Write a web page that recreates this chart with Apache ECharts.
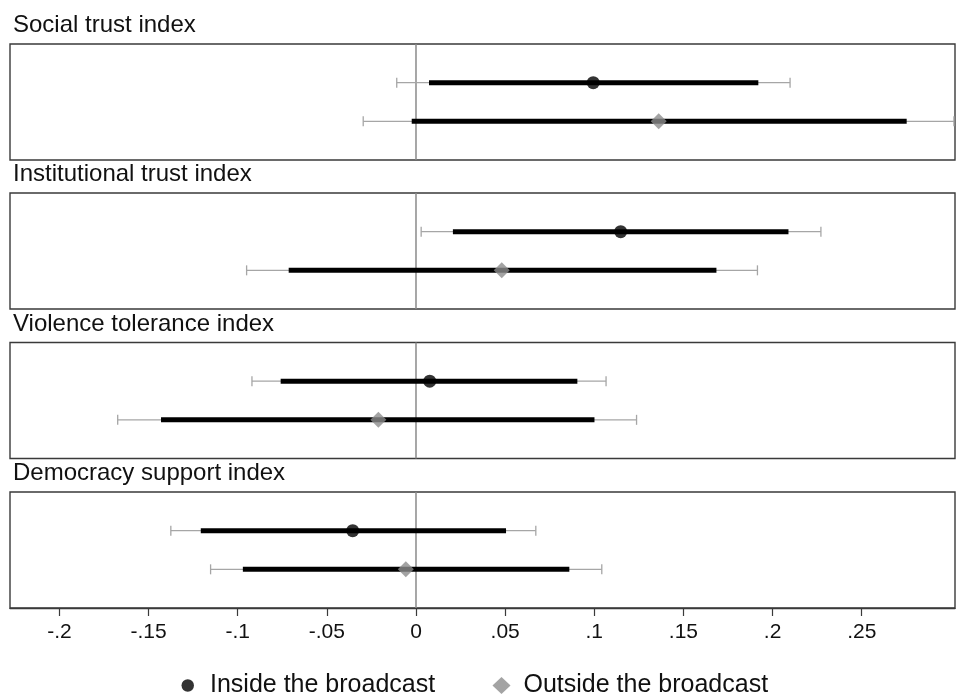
<!DOCTYPE html>
<html>
<head>
<meta charset="utf-8">
<script src="https://cdn.jsdelivr.net/npm/echarts@6/dist/echarts.min.js"></script>
<style>
html,body{margin:0;padding:0;background:#fff;}
#chart{width:957px;height:695px;}
</style>
</head>
<body>
<div id="chart"></div>
<script>
const panels = ['Social trust index', 'Institutional trust index', 'Violence tolerance index', 'Democracy support index'];
const seriesNames = ['Inside the broadcast', 'Outside the broadcast'];

const insideEst  = [0.0994, 0.1148, 0.0077, -0.0355];
const insideLo90 = [0.0073, 0.0207, -0.0759, -0.1207];
const insideHi90 = [0.1920, 0.2089, 0.0905, 0.0505];
const insideLo95 = [-0.0108, 0.0029, -0.0920, -0.1375];
const insideHi95 = [0.2098, 0.2271, 0.1066, 0.0672];

const outsideEst  = [0.1361, 0.0481, -0.0211, -0.0057];
const outsideLo90 = [-0.0024, -0.0714, -0.1430, -0.0971];
const outsideHi90 = [0.2752, 0.1685, 0.1001, 0.0860];
const outsideLo95 = [-0.0296, -0.0950, -0.1673, -0.1152];
const outsideHi95 = [0.3017, 0.1915, 0.1237, 0.1042];

const xTicks = [-0.2, -0.15, -0.1, -0.05, 0, 0.05, 0.1, 0.15, 0.2, 0.25];
const xMin = -0.2277;
const xMax = 0.3023;
const refValue = 0;

const FONT = '"Liberation Sans", Arial, Helvetica, sans-serif';
const gridTops = [44, 193, 342.5, 492];
const gridHeight = 116;
const titleTops = gridTops.map(t => t - 30.5);

function fmt(v) {
  if (Math.abs(v) < 1e-9) return '0';
  return String(+v.toFixed(2)).replace('0.', '.');
}

const grids = [], xAxes = [], yAxes = [], titles = [], series = [];

panels.forEach((p, i) => {
  const last = i === panels.length - 1;
  grids.push({
    left: 10, right: 2, top: gridTops[i], height: gridHeight,
    show: true, borderColor: '#3a3a3a', borderWidth: 1.4, backgroundColor: 'transparent'
  });
  titles.push({
    text: p, left: 13, top: titleTops[i], padding: 0,
    textStyle: { fontFamily: FONT, fontSize: 24, fontWeight: 'normal', color: '#111' }
  });
  xAxes.push({
    type: 'value', gridIndex: i, min: xMin, max: xMax,
    splitLine: { show: false },
    axisLine: { show: last, onZero: false, lineStyle: { color: '#3a3a3a', width: 1.4 } },
    axisTick: { show: last, customValues: xTicks, length: 8, lineStyle: { color: '#3a3a3a', width: 1.2 } },
    axisLabel: {
      show: last, customValues: xTicks, margin: 14, formatter: fmt,
      fontFamily: FONT, fontSize: 21, color: '#111'
    }
  });
  yAxes.push({
    type: 'value', gridIndex: i, min: 0, max: 3, inverse: true, show: false
  });

  // zero reference line
  series.push({
    type: 'line', xAxisIndex: i, yAxisIndex: i, silent: true, symbol: 'none', z: 1,
    data: [[refValue, 0], [refValue, 3]],
    lineStyle: { color: '#8a8a8a', width: 1.5 }
  });

  // confidence intervals
  series.push({
    type: 'custom', xAxisIndex: i, yAxisIndex: i, silent: true, z: 2,
    data: [
      [insideLo95[i], insideHi95[i], insideLo90[i], insideHi90[i], 1],
      [outsideLo95[i], outsideHi95[i], outsideLo90[i], outsideHi90[i], 2]
    ],
    encode: { x: [0, 1, 2, 3], y: 4 },
    renderItem: function (params, api) {
      const y = api.value(4);
      const a = api.coord([api.value(0), y]);
      const b = api.coord([api.value(1), y]);
      const c = api.coord([api.value(2), y]);
      const d = api.coord([api.value(3), y]);
      const thin = { stroke: '#a6a6a6', lineWidth: 1.3 };
      return {
        type: 'group',
        children: [
          { type: 'line', shape: { x1: a[0], y1: a[1], x2: b[0], y2: b[1] }, style: thin },
          { type: 'line', shape: { x1: a[0], y1: a[1] - 5, x2: a[0], y2: a[1] + 5 }, style: thin },
          { type: 'line', shape: { x1: b[0], y1: b[1] - 5, x2: b[0], y2: b[1] + 5 }, style: thin },
          { type: 'line', shape: { x1: c[0], y1: c[1], x2: d[0], y2: d[1] }, style: { stroke: '#000', lineWidth: 5 } }
        ]
      };
    }
  });

  series.push({
    type: 'scatter', name: seriesNames[0], xAxisIndex: i, yAxisIndex: i, z: 3,
    symbol: 'circle', symbolSize: 13,
    itemStyle: { color: '#000' },
    data: [[insideEst[i], 1]]
  });
  series.push({
    type: 'scatter', name: seriesNames[1], xAxisIndex: i, yAxisIndex: i, z: 3,
    symbol: 'diamond', symbolSize: 16,
    itemStyle: { color: '#8c8c8c' },
    data: [[outsideEst[i], 2]]
  });
});

const option = {
  animation: false,
  backgroundColor: '#fff',
  title: titles,
  grid: grids,
  xAxis: xAxes,
  yAxis: yAxes,
  legend: [
    {
      data: [{ name: seriesNames[0], icon: 'circle', itemStyle: { color: '#000' } }],
      left: 181.5, top: 673, itemWidth: 12.5, itemHeight: 12.5, selectedMode: false,
      textStyle: { fontFamily: FONT, fontSize: 25, color: '#111', padding: [0, 0, 0, 11] }, padding: 0
    },
    {
      data: [{ name: seriesNames[1], icon: 'diamond', itemStyle: { color: '#8c8c8c' } }],
      left: 492.5, top: 673, itemWidth: 18, itemHeight: 17, selectedMode: false,
      textStyle: { fontFamily: FONT, fontSize: 25, color: '#111', padding: [0, 0, 0, 8] }, padding: 0
    }
  ],
  series: series
};

const chart = echarts.init(document.getElementById('chart'), null, { renderer: 'canvas' });
chart.setOption(option);
</script>
</body>
</html>
